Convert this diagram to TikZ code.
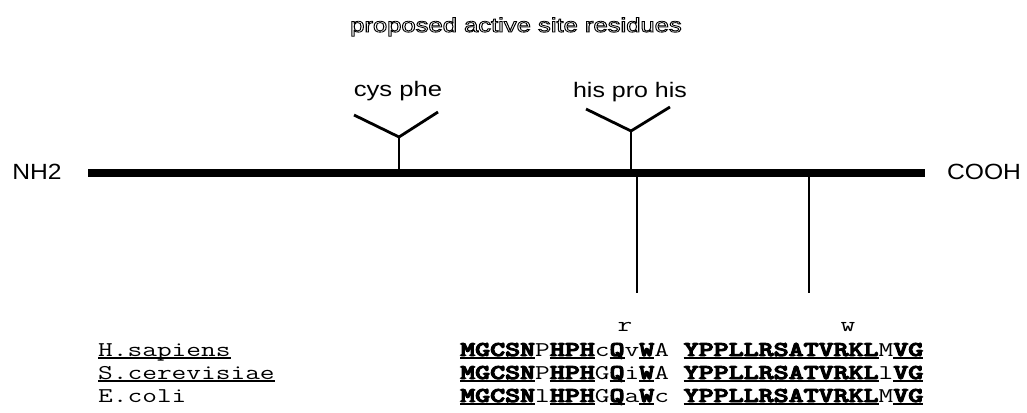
\documentclass[tikz,border=0pt]{standalone}
\usepackage{fontspec}
\usepackage{graphicx}
\setmainfont{Liberation Sans}
\newcommand\ulbox[1]{\setbox0\hbox{#1}\rlap{\rule[-3pt]{\wd0}{1.7pt}}\box0}
\newcommand\heavy[1]{\special{pdf:literal direct q 2 Tr 0.9 w}#1\special{pdf:literal direct Q}}
\newcommand\cons[1]{\ulbox{\bfseries\heavy{#1}}}
\newcommand\seqrow[1]{\scalebox{1.36}[1]{#1}}
\newcommand\outlinetext[1]{\special{pdf:literal direct q 1 Tr 0.8 w}#1\special{pdf:literal direct Q}}
\tikzset{
  backbone/.style={line width=8pt},
  stem/.style={line width=1.6pt},
  arm/.style={line width=2.8pt},
  sitelabel/.style={anchor=base, inner sep=0pt, font=\fontsize{21}{24}\selectfont},
  endlabel/.style={anchor=base, inner sep=0pt, font=\fontsize{22}{26}\selectfont},
  seqtext/.style={anchor=base west, inner sep=0pt, font=\ttfamily\fontsize{21}{24}\selectfont},
}
\begin{document}
\begin{tikzpicture}[x=1pt,y=-1pt]
\useasboundingbox (0,0) rectangle (1027,412);
% title
\node[sitelabel, font=\fontsize{20}{24}\selectfont] (title) at (516,32)
  {\scalebox{1.28}[1]{\outlinetext{proposed active site residues}}};
% ends
\node[endlabel] (nh2) at (37,179) {\scalebox{1.12}[1]{NH2}};
\node[endlabel] (cooh) at (984,179) {\scalebox{1.12}[1]{COOH}};
% backbone
\coordinate (bbL) at (88,173);
\coordinate (bbR) at (925,173);
\draw[backbone] (bbL) -- (bbR);
% cys phe marker
\coordinate (cysB) at (399,170);
\coordinate (cysJ) at (399,137);
\coordinate (cysL) at (354,115);
\coordinate (cysR) at (438,112);
\draw[stem] (cysB) -- (cysJ);
\draw[arm, line join=miter] (cysL) -- (cysJ) -- (cysR);
\node[sitelabel] (cyslab) at (398,96) {\scalebox{1.22}[1]{cys phe}};
% his pro his marker
\coordinate (hisB) at (631,170);
\coordinate (hisJ) at (631,131);
\coordinate (hisL) at (586,109);
\coordinate (hisR) at (670,107);
\draw[stem] (hisB) -- (hisJ);
\draw[arm, line join=miter] (hisL) -- (hisJ) -- (hisR);
\node[sitelabel] (hislab) at (630,97) {\scalebox{1.19}[1]{his pro his}};
% lower ticks
\coordinate (rT) at (637,176);
\coordinate (rB) at (637,293);
\coordinate (wT) at (809,176);
\coordinate (wB) at (809,293);
\draw[stem] (rT) -- (rB);
\draw[stem] (wT) -- (wB);
\node[seqtext, anchor=base] (rlab) at (625,331) {\seqrow{r}};
\node[seqtext, anchor=base] (wlab) at (848,331) {\seqrow{w}};
% species
\node[seqtext] (hs) at (98,356) {\seqrow{\ulbox{H.sapiens}}};
\node[seqtext] (sc) at (98,379) {\seqrow{\ulbox{S.cerevisiae}}};
\node[seqtext] (ec) at (98,402) {\seqrow{E.coli}};
% sequences
\node[seqtext] (hsseq) at (460,356) {\seqrow{\cons{MGCSN}P\cons{HPH}c\cons{Q}v\cons{W}A\ \cons{YPPLLRSATVRKL}M\cons{VG}}};
\node[seqtext] (scseq) at (460,379) {\seqrow{\cons{MGCSN}P\cons{HPH}G\cons{Q}i\cons{W}A\ \cons{YPPLLRSATVRKL}l\cons{VG}}};
\node[seqtext] (ecseq) at (460,402) {\seqrow{\cons{MGCSN}l\cons{HPH}G\cons{Q}a\cons{W}c\ \cons{YPPLLRSATVRKL}M\cons{VG}}};
\end{tikzpicture}
\end{document}
